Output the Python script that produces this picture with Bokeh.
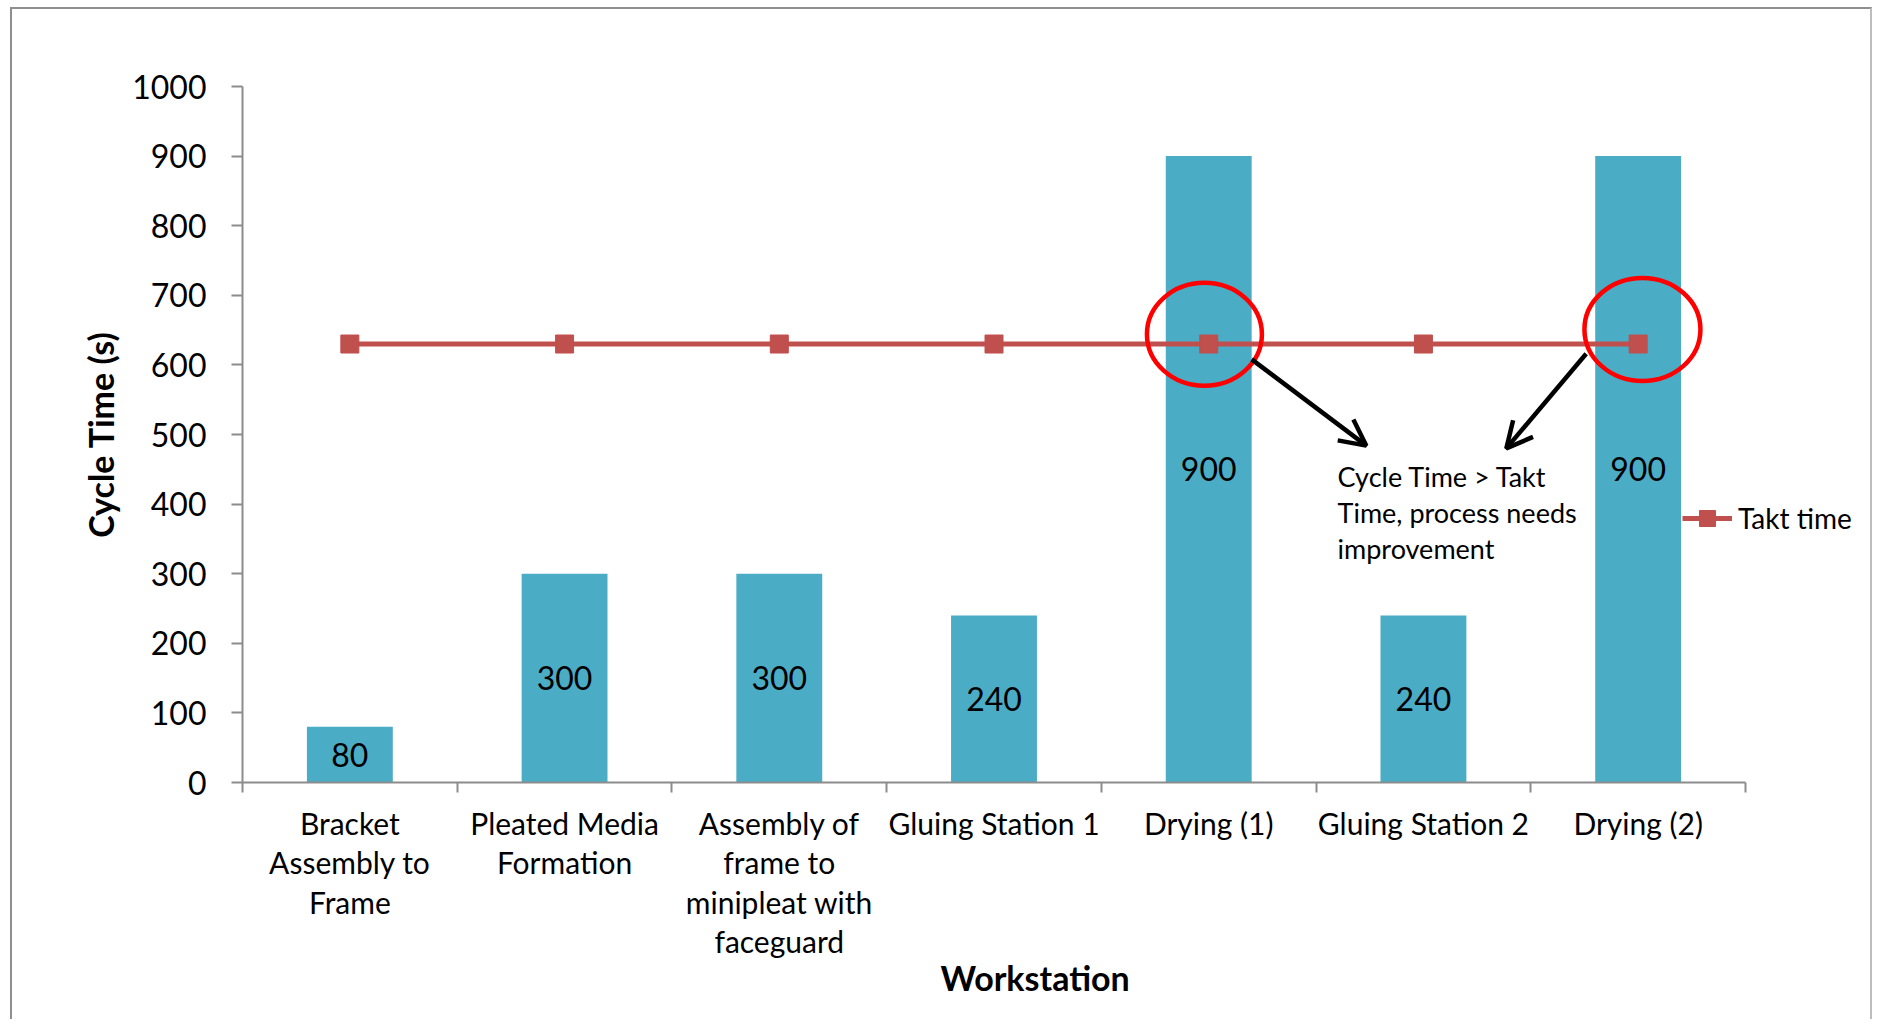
from bokeh.plotting import figure
from bokeh.models import (Range1d, FixedTicker, ColumnDataSource, Legend,
                          LegendItem, Arrow, OpenHead, Title)
from bokeh.core.properties import value
from bokeh.embed import file_html
from bokeh.resources import INLINE

# Workstation cycle times against the takt time
stations = [
    "Bracket\nAssembly to\nFrame",
    "Pleated Media\nFormation",
    "Assembly of\nframe to\nminipleat with\nfaceguard",
    "Gluing Station 1",
    "Drying (1)",
    "Gluing Station 2",
    "Drying (2)",
]
cycle_time = [80, 300, 300, 240, 900, 240, 900]
takt_time = [630, 630, 630, 630, 630, 630, 630]
y_ticks = [0, 100, 200, 300, 400, 500, 600, 700, 800, 900, 1000]

note_lines = ["Cycle Time > Takt", "Time, process needs", "improvement"]

FONT = "Lato"
BAR = "#4BACC6"
TAKT = "#C0504D"
AXIS = "#8C8C8C"

n = len(stations)
centers = [i + 0.5 for i in range(n)]

# canvas layout (pixels): the frame runs to the right edge so the legend
# beside the last bar is not clipped; the x axis itself stops at n
CANVAS_W, CANVAS_H = 1862, 1012
LEFT, TOP, BOTTOM = 230, 77, 239
AXIS_PX = 1503
x_end = n * (CANVAS_W - LEFT) / AXIS_PX

src = ColumnDataSource(dict(
    x=centers,
    ct=cycle_time,
    mid=[v / 2 for v in cycle_time],
    lbl=[str(v) for v in cycle_time],
))

p = figure(width=CANVAS_W, height=CANVAS_H,
           x_range=Range1d(0, x_end), y_range=Range1d(0, 1000),
           output_backend="svg", toolbar_location=None,
           min_border_left=LEFT, min_border_right=0,
           min_border_top=TOP, min_border_bottom=BOTTOM,
           margin=(7, 0, 0, 10),
           styles={"border-top": "2px solid #8F8F8F",
                   "border-left": "2px solid #8F8F8F",
                   "border-right": "2px solid #BDBDBD"})
p.grid.visible = False
p.outline_line_color = None
p.background_fill_color = "white"
p.border_fill_color = "white"

# bars with their values written inside
p.vbar(x="x", top="ct", width=0.4, source=src, fill_color=BAR, line_color=None)
p.text(x="x", y="mid", text="lbl", source=src, text_align="center",
       text_baseline="middle", text_font=value(FONT),
       text_font_size="32px", text_color="black")

# takt time line with square markers
takt_line = p.line(centers, takt_time, line_color=TAKT, line_width=5)
takt_pts = p.scatter(centers, takt_time, marker="square", size=18,
                     fill_color=TAKT, line_color=TAKT)

# highlight the stations that exceed the takt time
p.ellipse(x=[4.48, 6.52], y=[644, 651], width=[115, 116], height=[103, 103],
          width_units="screen", height_units="screen",
          fill_color=None, line_color="#FF0000", line_width=4.5)

for xs, ys, xe, ye in [(4.70, 608, 5.234, 484), (6.258, 616, 5.886, 480)]:
    p.add_layout(Arrow(x_start=xs, y_start=ys, x_end=xe, y_end=ye,
                       line_color="black", line_width=4.5,
                       end=OpenHead(size=26, line_color="black", line_width=4.5)))

p.text(x=[5.10] * 3, y=[440, 388, 336], text=note_lines,
       text_align="left", text_baseline="middle", text_font=value(FONT),
       text_font_size="27px", text_color="black")

# axes
xa = p.xaxis[0]
xa.bounds = (0, n)
xa.ticker = FixedTicker(ticks=centers, minor_ticks=list(range(n + 1)))
xa.major_label_overrides = {c: s for c, s in zip(centers, stations)}
xa.major_tick_line_color = None
xa.minor_tick_line_color = AXIS
xa.minor_tick_line_width = 2
xa.minor_tick_out = 10
xa.minor_tick_in = 0
xa.axis_line_color = AXIS
xa.axis_line_width = 2
xa.major_label_text_font = FONT
xa.major_label_text_font_size = "30px"
xa.major_label_text_line_height = 1.1
xa.major_label_text_color = "black"
xa.major_label_standoff = 12

ya = p.yaxis[0]
ya.ticker = FixedTicker(ticks=y_ticks)
ya.minor_tick_line_color = None
ya.major_tick_line_color = AXIS
ya.major_tick_line_width = 2
ya.major_tick_out = 11
ya.major_tick_in = 0
ya.axis_line_color = AXIS
ya.axis_line_width = 2
ya.major_label_text_font = FONT
ya.major_label_text_font_size = "32px"
ya.major_label_text_color = "black"
ya.major_label_standoff = 25
ya.axis_label = "Cycle Time (s)"
ya.axis_label_text_font = FONT
ya.axis_label_text_font_size = "34px"
ya.axis_label_text_font_style = "bold"
ya.axis_label_text_color = "black"
ya.axis_label_standoff = 8

p.add_layout(Title(text="Workstation", align="left", offset=698, standoff=-15,
                   text_font=FONT, text_font_size="34px",
                   text_font_style="bold", text_color="black"), "below")

legend = Legend(items=[LegendItem(label="Takt time", renderers=[takt_line, takt_pts])],
                location=(1440, 244), orientation="vertical",
                glyph_width=50, glyph_height=40, label_standoff=6,
                padding=0, margin=0, spacing=0,
                border_line_color=None, background_fill_alpha=0,
                label_text_font=FONT, label_text_font_size="28px",
                label_text_color="black")
p.add_layout(legend)

open("out.html", "w").write(file_html(p, INLINE))
